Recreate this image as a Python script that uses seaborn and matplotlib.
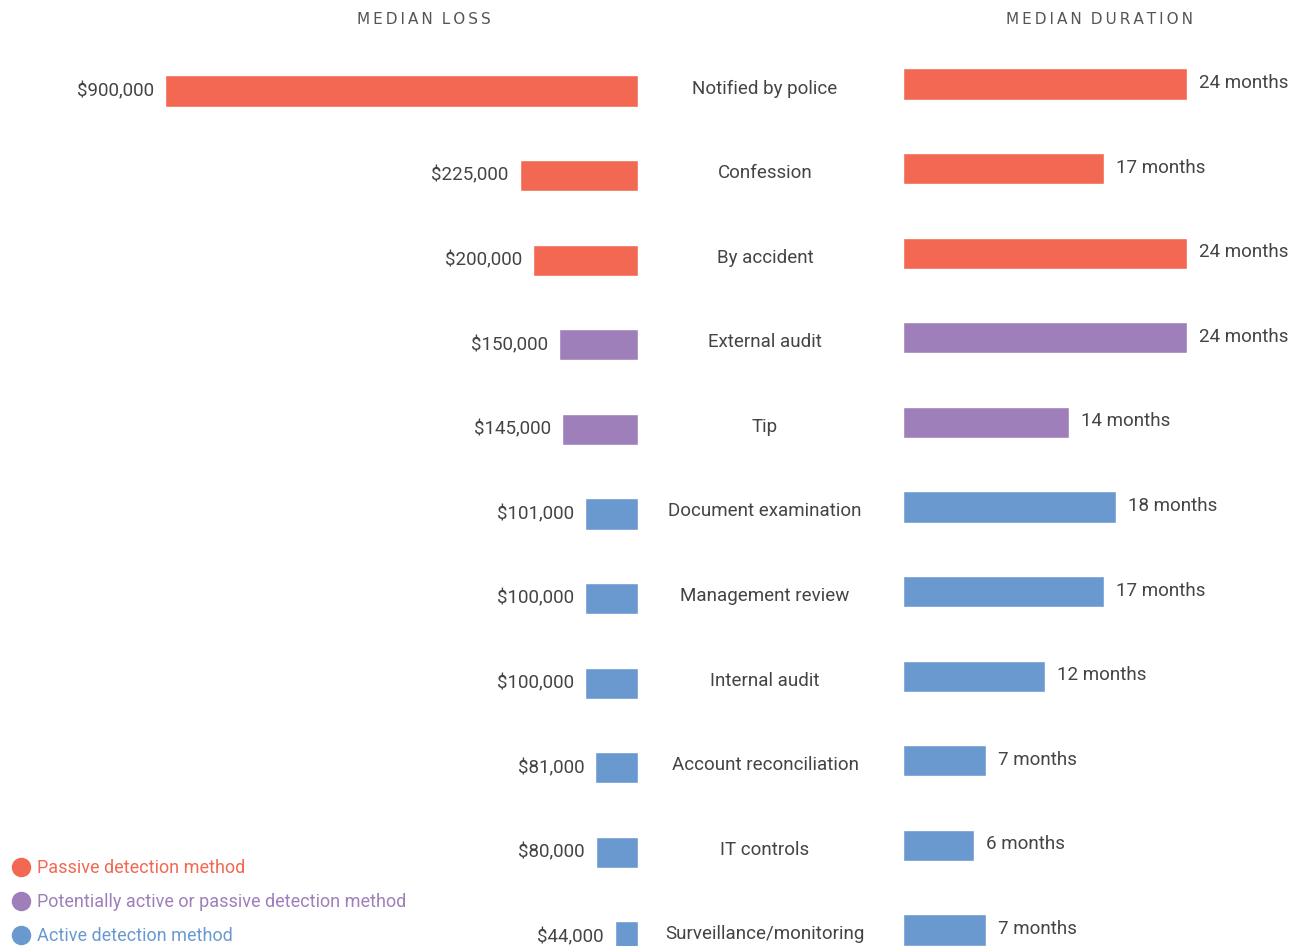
import matplotlib
matplotlib.use('Agg')
import matplotlib.pyplot as plt
import matplotlib.transforms as mtransforms
from matplotlib.lines import Line2D
from matplotlib import font_manager
import seaborn as sns
import pandas as pd

# Data
methods = ['Notified by police', 'Confession', 'By accident', 'External audit', 'Tip',
           'Document examination', 'Management review', 'Internal audit',
           'Account reconciliation', 'IT controls', 'Surveillance/monitoring']
median_loss = [900000, 225000, 200000, 150000, 145000, 101000, 100000, 100000, 81000, 80000, 44000]
median_duration = [24, 17, 24, 24, 14, 18, 17, 12, 7, 6, 7]
method_type = ['Passive detection method'] * 3 + \
              ['Potentially active or passive detection method'] * 2 + \
              ['Active detection method'] * 6

palette = {'Passive detection method': '#F26852',
           'Potentially active or passive detection method': '#9E7FBA',
           'Active detection method': '#6A99D0'}

df = pd.DataFrame({'method': methods, 'loss': median_loss,
                   'duration': median_duration, 'type': method_type})

sns.set_style('white')
installed = {f.name for f in font_manager.fontManager.ttflist}
narrow = 'Liberation Sans Narrow' if 'Liberation Sans Narrow' in installed else 'Roboto'
plt.rcParams['font.family'] = [narrow, 'DejaVu Sans']
txt = '#444444'
fs = 13.5

W, H = 1291, 946
fig = plt.figure(figsize=(W / 100, H / 100), dpi=100)

pitch = 84.6
# left panel: bars grow leftwards from x=638
top_l = 91 - pitch / 2
ax1 = fig.add_axes([165 / W, 1 - (top_l + 11 * pitch) / H, 473 / W, 11 * pitch / H])
# right panel: sits 7px higher
top_r = 84 - pitch / 2
ax2 = fig.add_axes([903 / W, 1 - (top_r + 11 * pitch) / H, 284 / W, 11 * pitch / H])

sns.barplot(data=df, x='loss', y='method', hue='type', palette=palette, dodge=False,
            width=0.37, legend=False, ax=ax1, saturation=1)
sns.barplot(data=df, x='duration', y='method', hue='type', palette=palette, dodge=False,
            width=0.37, legend=False, ax=ax2, saturation=1)

ax1.set_xlim(900000, 0)
ax2.set_xlim(0, 24)
for ax in (ax1, ax2):
    ax.set_ylim(10.5, -0.5)
    ax.axis('off')

for i, (v, d) in enumerate(zip(median_loss, median_duration)):
    ax1.annotate(f'${v:,}', (v, i), xytext=(-11, 0), textcoords='offset pixels',
                 ha='right', va='center', fontsize=fs, color=txt, annotation_clip=False)
    ax2.annotate(f'{d} months', (d, i), xytext=(12, 1), textcoords='offset pixels',
                 ha='left', va='center', fontsize=fs, color=txt, annotation_clip=False)

# category names in the middle column
trans = mtransforms.blended_transform_factory(fig.transFigure, ax1.transData)
for i, m in enumerate(methods):
    ax1.text(765 / W, i - 0.03, m, transform=trans, ha='center', va='center',
             fontsize=fs, color=txt, clip_on=False)

# column headings with wide letter spacing
def spaced(s):
    return '\u2009'.join(s).replace('\u2009 \u2009', '\u2009\u2009\u2009')

fig.text(424 / W, 1 - 19 / H, spaced('MEDIAN LOSS'),
         ha='center', va='center', fontsize=11, color='#555555', family='DejaVu Sans')
fig.text(1099 / W, 1 - 19 / H, spaced('MEDIAN DURATION'),
         ha='center', va='center', fontsize=11, color='#555555', family='DejaVu Sans')

# legend
handles = [Line2D([], [], marker='o', linestyle='', markersize=13,
                  markerfacecolor=c, markeredgecolor=c, label=k) for k, c in palette.items()]
fig.legend(handles=handles, loc='lower left', bbox_to_anchor=(-2 / W, -12 / H),
           frameon=False, fontsize=13, labelcolor='markerfacecolor',
           handletextpad=0.25, labelspacing=0.9, handlelength=1.2, borderpad=0.2)

fig.savefig('out.png', dpi=100)
